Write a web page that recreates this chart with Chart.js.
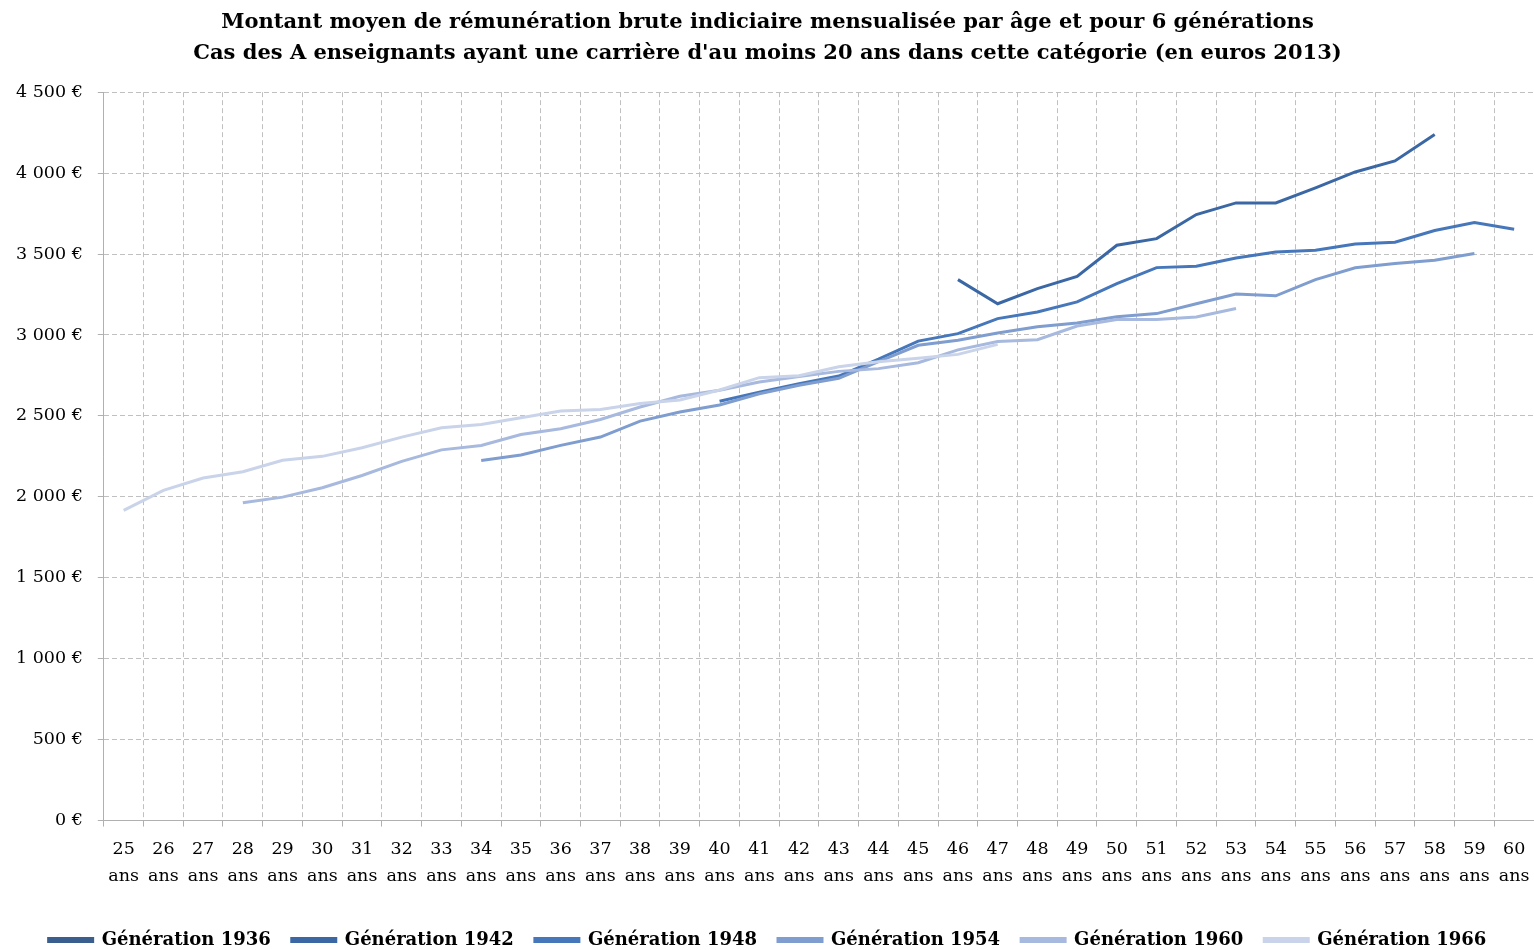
<!DOCTYPE html>
<html lang="fr">
<head>
<meta charset="utf-8">
<title>Rémunération brute indiciaire par âge</title>
<script src="https://cdn.jsdelivr.net/npm/chart.js@4/dist/chart.umd.min.js"></script>
<style>
  html, body { margin: 0; padding: 0; background: #fff; }
  #wrap { width: 1534px; height: 950px; }
</style>
</head>
<body>
<div id="wrap"><canvas id="chart"></canvas></div>
<script>
// ages on the x axis
const ages = [25, 26, 27, 28, 29, 30, 31, 32, 33, 34, 35, 36, 37, 38, 39, 40, 41, 42,
  43, 44, 45, 46, 47, 48, 49, 50, 51, 52, 53, 54, 55, 56, 57, 58, 59, 60];

const generations = ["Génération 1936", "Génération 1942", "Génération 1948",
  "Génération 1954", "Génération 1960", "Génération 1966"];

// euros 2013, one value per age (null = no data)
const gen1936 = [null, null, null, null, null, null, null, null, null, null, null, null,
  null, null, null, null, null, null, null, null, null, null, null, null, null, null, null,
  null, null, null, null, null, null, null, null, null];
const gen1942 = [null, null, null, null, null, null, null, null, null, null, null, null,
  null, null, null, null, null, null, null, null, null,
  3342, 3193, 3286, 3362, 3554, 3595, 3744, 3816, 3816, 3909, 4007, 4075, 4238, null, null];
const gen1948 = [null, null, null, null, null, null, null, null, null, null, null, null,
  null, null, null,
  2590, 2647, 2699, 2746, 2850, 2962, 3008, 3101, 3142, 3204, 3317, 3416, 3424, 3476,
  3513, 3523, 3562, 3573, 3645, 3694, 3653];
const gen1954 = [null, null, null, null, null, null, null, null, null,
  2225, 2258, 2318, 2369, 2468, 2524, 2567, 2637, 2689, 2732, 2835, 2936, 2967, 3012,
  3051, 3074, 3113, 3132, 3193, 3253, 3242, 3342, 3415, 3441, 3461, 3503, null];
const gen1960 = [null, null, null,
  1963, 1998, 2056, 2132, 2219, 2290, 2317, 2385, 2421, 2478, 2555, 2621, 2658, 2709,
  2744, 2775, 2792, 2828, 2908, 2960, 2971, 3055, 3095, 3095, 3111, 3163,
  null, null, null, null, null, null, null];
const gen1966 = [1916, 2040, 2116, 2155, 2226, 2250, 2303, 2369, 2427, 2447, 2488, 2530,
  2540, 2577, 2598, 2660, 2736, 2748, 2803, 2835, 2856, 2880, 2942,
  null, null, null, null, null, null, null, null, null, null, null, null, null];

const series = [gen1936, gen1942, gen1948, gen1954, gen1960, gen1966];
const colors = ["#3a5f8e", "#3b68a5", "#4677ba", "#7f9dcf", "#a7b9de", "#c9d3e9"];

const yTicks = [0, 500, 1000, 1500, 2000, 2500, 3000, 3500, 4000, 4500];

function euros(v) {
  let s = String(v);
  if (v >= 1000) {
    s = Math.floor(v / 1000) + " " + String(v % 1000).padStart(3, "0");
  }
  return s + " €";
}

const serif = "'DejaVu Serif', 'Liberation Serif', serif";

new Chart(document.getElementById("chart"), {
  type: "line",
  data: {
    labels: ages.map(a => [String(a), "ans"]),
    datasets: series.map((d, i) => ({
      label: generations[i],
      data: d,
      borderColor: colors[i],
      backgroundColor: colors[i],
      borderWidth: 3,
      pointRadius: 0,
      pointHoverRadius: 0,
      tension: 0,
      fill: false,
      // later generations sit on top
      order: series.length - i
    }))
  },
  options: {
    responsive: true,
    maintainAspectRatio: false,
    animation: false,
    layout: { padding: { left: 1, right: 0, top: 0, bottom: -9 } },
    plugins: {
      tooltip: { enabled: false },
      title: {
        display: true,
        text: [
          "Montant moyen de rémunération brute indiciaire mensualisée par âge et pour 6 générations",
          "Cas des A enseignants ayant une carrière d'au moins 20 ans dans cette catégorie (en euros 2013)"
        ],
        color: "#000",
        font: { family: serif, size: 21, weight: "bold", lineHeight: 1.48 },
        padding: { top: 7, bottom: 23 }
      },
      legend: {
        position: "bottom",
        title: { display: true, text: " ", font: { size: 1 }, padding: { top: 10, bottom: 0 } },
        labels: {
          sort: (a, b) => a.datasetIndex - b.datasetIndex,
          boxWidth: 44,
          boxHeight: 3,
          padding: 21,
          color: "#000",
          font: { family: serif, size: 18, weight: "bold" }
        }
      }
    },
    scales: {
      x: {
        offset: true,
        // let the plot run to the right edge, the last label fits in its slot
        afterFit: scale => { scale.paddingLeft = 0; scale.paddingRight = 0; },
        grid: {
          offset: true,
          color: "#c0c0c0",
          tickColor: "#b0b0b0",
          tickLength: 6
        },
        border: { color: "#b0b0b0", width: 1, dash: [5, 3] },
        ticks: {
          autoSkip: false,
          maxRotation: 0,
          padding: 9,
          color: "#000",
          font: { family: serif, size: 17.5, lineHeight: 1.55 }
        }
      },
      y: {
        min: 0,
        max: 4500,
        afterBuildTicks: axis => { axis.ticks = yTicks.map(v => ({ value: v })); },
        grid: {
          color: "#c0c0c0",
          tickColor: "#b0b0b0",
          tickLength: 6
        },
        border: { color: "#b0b0b0", width: 1, dash: [5, 3] },
        ticks: {
          padding: 15,
          color: "#000",
          font: { family: serif, size: 17.5 },
          callback: v => euros(v)
        }
      }
    }
  }
});
</script>
</body>
</html>
